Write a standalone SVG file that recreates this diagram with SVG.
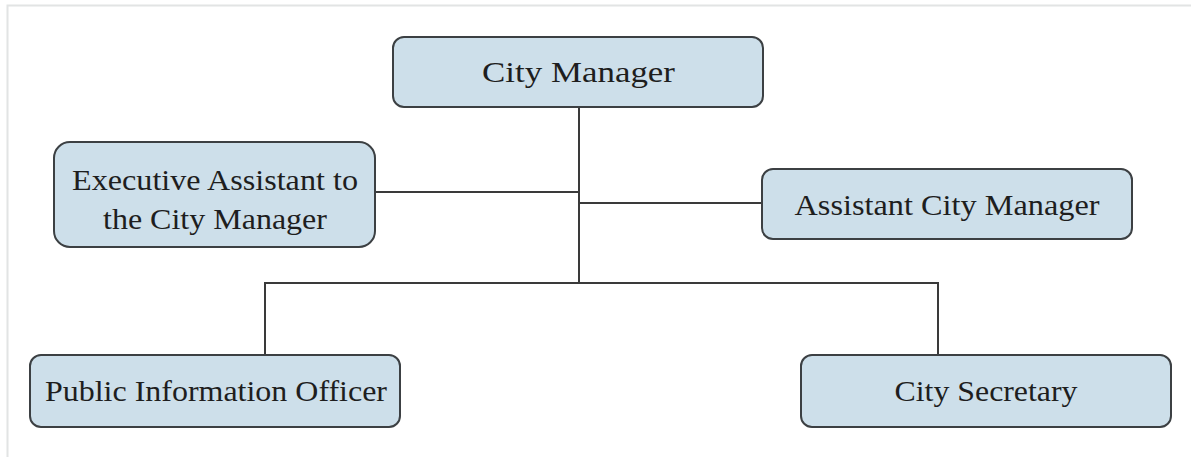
<svg xmlns="http://www.w3.org/2000/svg" width="1191" height="457" viewBox="0 0 1191 457">
  <style>
    .box { fill: #cddfea; stroke: #3c4043; stroke-width: 2; }
    .lbl { font-family: "Liberation Serif", "DejaVu Serif", serif; font-size: 29px; fill: #1e1e1e; text-anchor: middle; }
    .wire { fill: none; stroke: #3a3a3a; stroke-width: 2; }
  </style>
  <rect width="1191" height="457" fill="#ffffff"/>
  <!-- page frame: only top and left edges visible -->
  <path d="M7.5,457 V5.5 H1191" fill="none" stroke="#e2e4e4" stroke-width="2"/>

  <g id="connectors">
    <path class="wire" d="M579,107 V283"/>
    <path class="wire" d="M375,192 H579"/>
    <path class="wire" d="M579,203 H762"/>
    <path class="wire" d="M265,355 V283 H938 V355"/>
  </g>

  <g id="city-manager">
    <rect class="box" x="393" y="37" width="370" height="70" rx="11"/>
    <text class="lbl" x="578.5" y="82" textLength="193" lengthAdjust="spacingAndGlyphs">City Manager</text>
  </g>

  <g id="executive-assistant">
    <rect class="box" x="54" y="142" width="321" height="105" rx="16"/>
    <text class="lbl" x="215" y="190" textLength="286" lengthAdjust="spacingAndGlyphs">Executive Assistant to</text>
    <text class="lbl" x="215" y="229" textLength="224" lengthAdjust="spacingAndGlyphs">the City Manager</text>
  </g>

  <g id="assistant-city-manager">
    <rect class="box" x="762" y="169" width="370" height="70" rx="11"/>
    <text class="lbl" x="947" y="215" textLength="305" lengthAdjust="spacingAndGlyphs">Assistant City Manager</text>
  </g>

  <g id="public-information-officer">
    <rect class="box" x="30" y="355" width="370" height="72" rx="11"/>
    <text class="lbl" x="216" y="401" textLength="342" lengthAdjust="spacingAndGlyphs">Public Information Officer</text>
  </g>

  <g id="city-secretary">
    <rect class="box" x="801" y="355" width="370" height="72" rx="11"/>
    <text class="lbl" x="986" y="401" textLength="183" lengthAdjust="spacingAndGlyphs">City Secretary</text>
  </g>
</svg>
